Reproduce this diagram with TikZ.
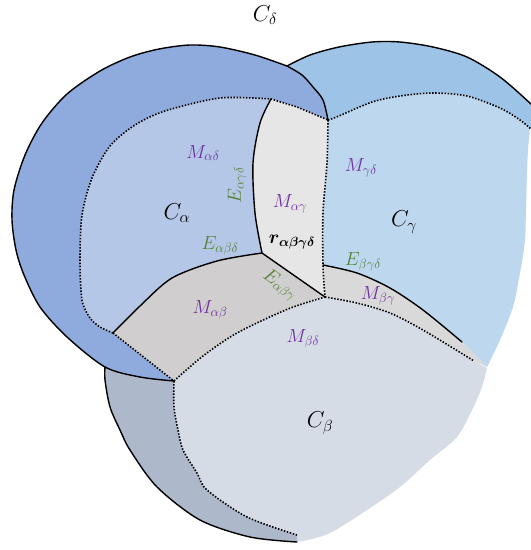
\RequirePackage{fix-cm}
\documentclass[tikz,border=0pt]{standalone}
\usepackage{bm}
\definecolor{cdark}{HTML}{8FAADC}
\definecolor{cband}{HTML}{9DC3E6}
\definecolor{calpha}{HTML}{B4C7E7}
\definecolor{cgamma}{HTML}{BDD7EE}
\definecolor{cag}{HTML}{E7E6E6}
\definecolor{cab}{HTML}{D0CECE}
\definecolor{cbg}{HTML}{D9D9D9}
\definecolor{cbeta}{HTML}{D6DCE5}
\definecolor{cbd}{HTML}{ADB9CA}
\definecolor{mpurple}{HTML}{7030A0}
\definecolor{egreen}{HTML}{548235}
\tikzset{
  solidline/.style={line width=1.4pt, line join=round, line cap=round},
  dotline/.style={line width=1.6pt, dash pattern=on 1.5pt off 1.6pt},
  clab/.style={font=\fontsize{23}{26}\selectfont, inner sep=0pt},
  mlab/.style={text=mpurple, font=\fontsize{19}{22}\selectfont, inner sep=0pt},
  elab/.style={text=egreen, font=\fontsize{19}{22}\selectfont, inner sep=0pt},
  rlab/.style={font=\fontsize{19}{22}\selectfont, inner sep=0pt},
}
\begin{document}
\begin{tikzpicture}[x=1pt,y=-1pt]
\clip (0,0) rectangle (531,550);
\fill[white] (0,0) rectangle (531,550);

% ---------- fills ----------
% right lobe outer band
\fill[cband] plot[smooth] coordinates {(287,66) (310,55) (339,47) (372,42) (400,42) (433,47) (467,57) (500,77) (531,104) (545,118)}
  -- (545,135) -- (531,129)
  -- plot[smooth] coordinates {(531,129) (520,120) (500,108) (467,96) (433,93) (400,96) (372,102) (339,116) (328,120)}
  -- plot[smooth] coordinates {(328,120) (323,100) (313,87) (302,75) (287,66)} -- cycle;
% C_gamma
\fill[cgamma] plot[smooth] coordinates {(328,120) (339,116) (372,102) (400,96) (433,93) (467,96) (500,108) (520,120) (531,129)}
  -- plot[smooth] coordinates {(530,128) (528,150) (527,173) (526,207) (525,240) (520,273) (513,307) (500,340) (487,367)}
  -- (462,342)
  -- plot[smooth] coordinates {(462,342) (423,310) (390,288) (357,273) (323,265)}
  -- plot[smooth] coordinates {(323,265) (323,213) (327,163) (328,120)} -- cycle;
% left lobe (dark)
\fill[cdark] plot[smooth] coordinates {(287,66) (255,55) (220,47) (190,45) (159,49) (130,57) (100,71) (67,94) (42,123) (25,155) (14,190) (12,220) (16,250) (24,275) (40,307) (67,337) (105,367) (140,377) (174,381)}
  -- (113,333)
  -- plot[smooth] coordinates {(113,333) (100,327) (90,318) (82,300) (80,260) (82,215) (92,178) (110,146) (135,125) (165,111) (220,98) (271,99)}
  -- (297,107) -- (328,120)
  -- plot[smooth] coordinates {(328,120) (323,100) (313,87) (302,75) (287,66)} -- cycle;
% C_alpha
\fill[calpha] plot[smooth] coordinates {(113,333) (100,327) (90,318) (82,300) (80,260) (82,215) (92,178) (110,146) (135,125) (165,111) (220,98) (271,99)}
  -- plot[smooth] coordinates {(271,99) (260,123) (253,163) (255,213) (262,253)}
  -- plot[smooth] coordinates {(262,253) (217,261) (172,278) (140,306) (113,333)} -- cycle;
% M_alpha gamma
\fill[cag] (271,99) -- (297,107) -- (328,120)
  -- plot[smooth] coordinates {(328,120) (327,163) (323,213) (323,265) (325,297)}
  -- (262,253)
  -- plot[smooth] coordinates {(262,253) (255,213) (253,163) (260,123) (271,99)} -- cycle;
% M_alpha beta
\fill[cab] plot[smooth] coordinates {(113,333) (140,306) (172,278) (217,261) (262,253)}
  -- (325,297)
  -- plot[smooth] coordinates {(325,297) (288,309) (237,333) (203,356) (174,381)} -- cycle;
% M_beta gamma
\fill[cbg] plot[smooth] coordinates {(323,265) (357,273) (390,288) (423,310) (462,342)}
  -- (487,367) -- (474,361)
  -- plot[smooth] coordinates {(474,361) (423,330) (390,313) (357,303) (325,297)} -- cycle;
% C_beta
\fill[cbeta] plot[smooth] coordinates {(174,381) (203,356) (237,333) (288,309) (325,297)}
  -- plot[smooth] coordinates {(325,297) (357,303) (390,313) (423,330) (474,361)}
  -- (487,368)
  -- plot[smooth] coordinates {(487,368) (482,387) (472,410) (457,437) (430,460) (400,487) (367,510) (330,533) (303,541) (297,541)}
  -- (297,535)
  -- plot[smooth] coordinates {(297,535) (247,517) (207,490) (197,473) (183,450) (178,430) (174,407) (174,381)} -- cycle;
% lower band
\fill[cbd] plot[smooth] coordinates {(105,367) (140,377) (174,381)}
  -- plot[smooth] coordinates {(174,381) (174,407) (178,430) (183,450) (197,473) (207,490) (247,517) (297,535)}
  -- (297,542)
  -- plot[smooth] coordinates {(297,542) (250,537) (200,520) (157,487) (130,450) (120,430) (110,407) (105,380) (105,367)} -- cycle;

% ---------- dotted borders ----------
\draw[dotline] plot[smooth] coordinates {(113,333) (100,327) (90,318) (82,300) (80,260) (82,215) (92,178) (110,146) (135,125) (165,111) (220,98) (271,99)} -- (297,107) -- (328,120);
\draw[dotline] plot[smooth] coordinates {(328,120) (339,116) (372,102) (400,96) (433,93) (467,96) (500,108) (520,120) (531,129)};
\draw[dotline] plot[smooth] coordinates {(328,120) (327,163) (323,213) (323,265) (325,297)};
\draw[dotline] (113,333) -- (174,381);
\draw[dotline] plot[smooth] coordinates {(174,381) (203,356) (237,333) (288,309) (325,297)};
\draw[dotline] plot[smooth] coordinates {(325,297) (357,303) (390,313) (423,330) (474,361)};
\draw[dotline] plot[smooth] coordinates {(174,381) (174,407) (178,430) (183,450) (197,473) (207,490) (247,517) (297,535)};

% ---------- solid borders ----------
\draw[solidline] plot[smooth] coordinates {(287,66) (255,55) (220,47) (190,45) (159,49) (130,57) (100,71) (67,94) (42,123) (25,155) (14,190) (12,220) (16,250) (24,275) (40,307) (67,337) (105,367) (140,377) (174,381)};
\draw[solidline] plot[smooth] coordinates {(287,66) (310,55) (339,47) (372,42) (400,42) (433,47) (467,57) (500,77) (531,104) (545,118)};
\draw[solidline] plot[smooth] coordinates {(287,66) (302,75) (313,87) (323,100) (328,120)};
\draw[solidline] plot[smooth] coordinates {(271,99) (260,123) (253,163) (255,213) (262,253)};
\draw[solidline] plot[smooth] coordinates {(262,253) (217,261) (172,278) (140,306) (113,333)};
\draw[solidline] (262,253) -- (325,297);
\draw[solidline] plot[smooth] coordinates {(323,265) (357,273) (390,288) (423,310) (462,342)};
\draw[solidline] plot[smooth] coordinates {(105,367) (105,380) (110,407) (120,430) (130,450) (157,487) (200,520) (250,537) (297,542)};

% ---------- labels ----------
\node[clab] (cd) at (265,15) {$C_\delta$};
\node[clab] (ca) at (177,213) {$C_\alpha$};
\node[clab] (cg) at (404,222) {$C_\gamma$};
\node[clab] (cb) at (320,423) {$C_\beta$};
\node[mlab] (mad) at (203,153) {$M_{\alpha\delta}$};
\node[mlab] (mgd) at (361,168) {$M_{\gamma\delta}$};
\node[mlab] (mag) at (290,204) {$M_{\alpha\gamma}$};
\node[mlab] (mab) at (210,310) {$M_{\alpha\beta}$};
\node[mlab] (mbg) at (378,296) {$M_{\beta\gamma}$};
\node[mlab] (mbd) at (303,339) {$M_{\beta\delta}$};
\node[rlab] (r) at (292,242) {$\bm{r}_{\bm{\alpha\beta\gamma\delta}}$};
\node[elab, rotate=90] (eagd) at (237,185) {$E_{\alpha\gamma\delta}$};
\node[elab] (eabd) at (220,246) {$E_{\alpha\beta\delta}$};
\node[elab] (ebgd) at (363,262) {$E_{\beta\gamma\delta}$};
\node[elab, rotate=-35] (eabg) at (280,285) {$E_{\alpha\beta\gamma}$};
\end{tikzpicture}
\end{document}
